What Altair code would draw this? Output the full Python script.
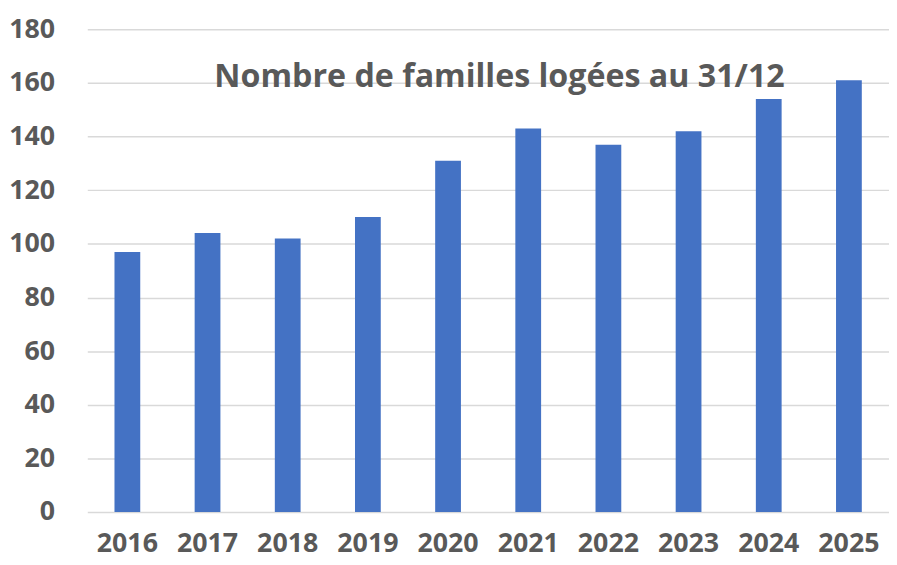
import altair as alt
import pandas as pd

years = ["2016", "2017", "2018", "2019", "2020", "2021", "2022", "2023", "2024", "2025"]
families = [97, 104, 102, 110, 131, 143, 137, 142, 154, 161]
y_ticks = [0, 20, 40, 60, 80, 100, 120, 140, 160, 180]
title_text = "Nombre de familles logées au 31/12"

df = pd.DataFrame({"year": years, "value": families})

FONT = "Open Sans"
GREY = "#595959"

bars = alt.Chart(df).mark_bar(size=26, color="#4472C4").encode(
    x=alt.X("year:N", sort=years, title=None,
            scale=alt.Scale(paddingInner=0, paddingOuter=0),
            axis=alt.Axis(labelAngle=0, labelFont=FONT, labelFontSize=27,
                          labelFontWeight="bold", labelColor=GREY,
                          ticks=False, domain=False, labelPadding=19,
                          grid=False)),
    y=alt.Y("value:Q", title=None,
            scale=alt.Scale(domain=[0, 180], nice=False),
            axis=alt.Axis(values=y_ticks, labelFont=FONT, labelFontSize=27,
                          labelFontWeight="bold", labelColor=GREY,
                          ticks=False, domain=False, labelPadding=33,
                          grid=True, gridColor="#d9d9d9", gridWidth=1.5)),
)

title = alt.Chart(pd.DataFrame({"t": [title_text]})).mark_text(
    font=FONT, fontSize=32.5, fontWeight="bold", color=GREY,
    align="center", baseline="alphabetic"
).encode(
    text="t:N",
    x=alt.value(416),
    y=alt.value(58),
)

chart = alt.layer(bars, title).properties(
    width=809, height=487,
    padding={"left": 80, "top": 19, "right": 0, "bottom": 51},
    autosize=alt.AutoSizeParams(type="none"),
).configure_view(stroke=None)

chart.save("out.html", embed_options={"renderer": "svg", "actions": False})
